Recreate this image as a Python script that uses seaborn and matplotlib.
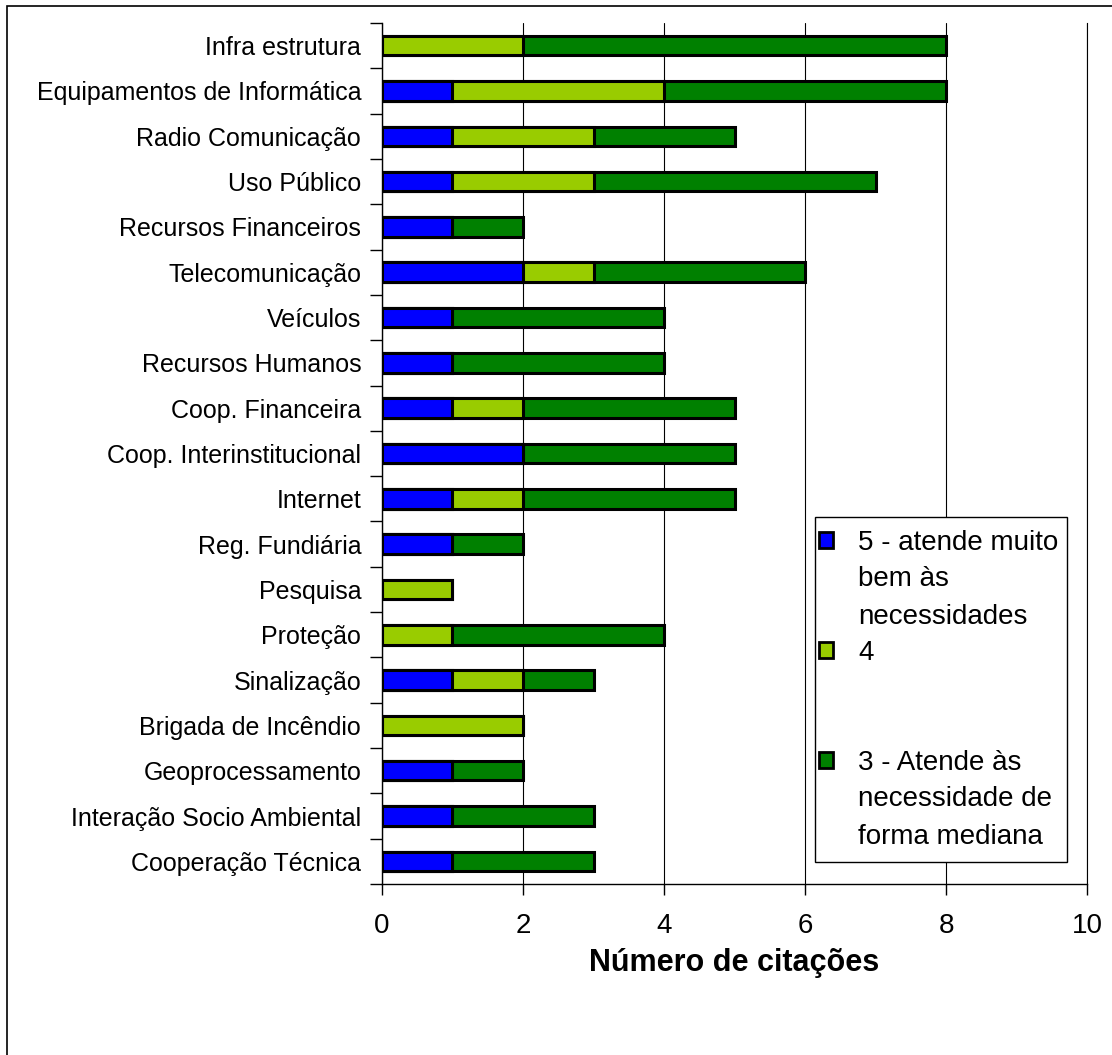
import numpy as np
import pandas as pd
import seaborn as sns
import matplotlib.pyplot as plt
from matplotlib.patches import Rectangle
from matplotlib.legend_handler import HandlerPatch

categories = ["Infra estrutura", "Equipamentos de Informática", "Radio Comunicação",
              "Uso Público", "Recursos Financeiros", "Telecomunicação", "Veículos",
              "Recursos Humanos", "Coop. Financeira", "Coop. Interinstitucional",
              "Internet", "Reg. Fundiária", "Pesquisa", "Proteção", "Sinalização",
              "Brigada de Incêndio", "Geoprocessamento", "Interação Socio Ambiental",
              "Cooperação Técnica"]
nivel_5 = [0, 1, 1, 1, 1, 2, 1, 1, 1, 2, 1, 1, 0, 0, 1, 0, 1, 1, 1]
nivel_4 = [2, 3, 2, 2, 0, 1, 0, 0, 1, 0, 1, 0, 1, 1, 1, 2, 0, 0, 0]
nivel_3 = [6, 4, 2, 4, 1, 3, 3, 3, 3, 3, 3, 1, 0, 3, 1, 0, 1, 2, 2]
legend_labels = ["5 - atende muito\nbem às\nnecessidades",
                 "4\n \n ",
                 "3 - Atende às\nnecessidade de\nforma mediana"]
colors = ["#0000FF", "#99CC00", "#008000"]

df = pd.DataFrame({"categoria": categories, "n5": nivel_5, "n4": nivel_4, "n3": nivel_3})
# stacked bars: draw cumulative totals, longest first
df["c5"] = df["n5"]
df["c4"] = df["n5"] + df["n4"]
df["c3"] = df["n5"] + df["n4"] + df["n3"]

sns.set_style("white")
plt.rcParams["font.family"] = ["Liberation Sans", "DejaVu Sans"]
plt.rcParams["text.color"] = "black"

fig = plt.figure(figsize=(11.12, 10.55), dpi=100)
ax = fig.add_axes([382 / 1112, 171 / 1055, 705 / 1112, 861 / 1055])

for col, color in [("c3", colors[2]), ("c4", colors[1]), ("c5", colors[0])]:
    sns.barplot(data=df, y="categoria", x=col, order=categories, color=color,
                orient="h", width=0.43, edgecolor="black", linewidth=2.2,
                saturation=1, ax=ax)

ax.set_xlim(0, 10)
ax.set_xticks([0, 2, 4, 6, 8, 10])
ax.tick_params(axis="x", labelsize=20, length=8, width=1, direction="out",
               pad=13, bottom=True, colors="black")
ax.xaxis.grid(True, color="black", linewidth=0.8)
ax.set_axisbelow(True)

ax.set_yticks(np.arange(len(categories)))
ax.set_yticklabels(categories)
ax.set_yticks(np.arange(len(categories) + 1) - 0.5, minor=True)
ax.tick_params(axis="y", which="major", length=0, labelsize=18, pad=15,
               labelcolor="black")
ax.tick_params(axis="y", which="minor", length=9, width=1, left=True, colors="black")

ax.spines["top"].set_visible(False)
for s in ["left", "bottom", "right"]:
    ax.spines[s].set_visible(True)
    ax.spines[s].set_color("black")
    ax.spines[s].set_linewidth(1)
ax.spines["right"].set_linewidth(0.8)

ax.set_ylabel("")
ax.set_xlabel("Número de citações", fontsize=22, fontweight="bold", labelpad=6,
              color="black")


def square_top(legend, orig_handle, xdescent, ydescent, width, height, fontsize):
    # put the square next to the first line of the label, close to the frame
    return Rectangle((-xdescent - 0.3 * fontsize, -ydescent + 1.42 * fontsize),
                     width, height)


handles = [Rectangle((0, 0), 1, 1, facecolor=c, edgecolor="black", linewidth=2)
           for c in colors]
leg = ax.legend(handles, legend_labels,
                loc="lower left", bbox_to_anchor=(433 / 705, 22 / 861, 252 / 705, 349 / 861),
                mode="expand", fontsize=20, frameon=True, fancybox=False,
                edgecolor="black", framealpha=1, borderpad=0.45, labelspacing=0.36,
                handlelength=0.5, handleheight=0.5, handletextpad=0.6,
                borderaxespad=0,
                handler_map={Rectangle: HandlerPatch(patch_func=square_top)})
leg.get_frame().set_linewidth(1)
for t in leg.get_texts():
    t.set_linespacing(1.55)
    t.set_color("black")

# outer chart-area border (cropped on right and bottom)
fig.patches.append(Rectangle((7 / 1112, -0.1), 1.2, 1.1 - 6 / 1055,
                             transform=fig.transFigure, fill=False,
                             edgecolor="black", linewidth=1.2))

fig.savefig("out.png", dpi=100, facecolor="white")
